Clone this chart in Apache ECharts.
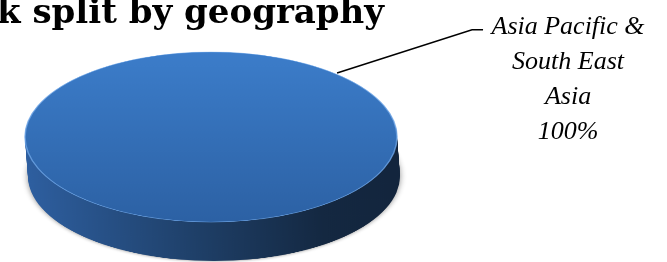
<!DOCTYPE html>
<html>
<head>
<meta charset="utf-8">
<script src="https://cdn.jsdelivr.net/npm/echarts@6/dist/echarts.min.js"></script>
<style>
html,body{margin:0;padding:0;background:#fff;}
#wrap{position:relative;width:667px;height:262px;overflow:hidden;}
/* pie body is drawn round and squashed to look tilted */
#pieBody{position:absolute;left:0;top:0;width:667px;height:573px;transform:scaleY(0.457);transform-origin:0 0;}
#labels{position:absolute;left:0;top:0;width:667px;height:262px;}
</style>
</head>
<body>
<div id="wrap"><div id="pieBody"></div><div id="labels"></div></div>
<script>
// data
var regions = ['Asia Pacific & South East Asia'];
var shares = [100];
var titleText = 'k split by geography';

var pieData = regions.map(function (n, i) {
    return { name: n, value: shares[i] };
});

// geometry of the tilted disc
var tilt = 0.457, cx = 211, cy = 137, rx = 186, depth = 39, layers = 26;

//立体饼图主体
var bodyChart = echarts.init(document.getElementById('pieBody'));
var bodySeries = [];
for (var k = layers; k >= 1; k--) {
    bodySeries.push({
        type: 'pie',
        silent: true,
        animation: false,
        center: [cx + 3 * k / layers, (cy + depth * k / layers) / tilt],
        radius: rx,
        label: { show: false },
        labelLine: { show: false },
        itemStyle: {
            color: new echarts.graphic.LinearGradient(0, 0, 1, 0, [
                { offset: 0, color: '#2e5fa0' },
                { offset: 0.45, color: '#1f4069' },
                { offset: 0.8, color: '#142841' },
                { offset: 1, color: '#13253d' }
            ]),
            shadowBlur: k === layers ? 6 : 0,
            shadowColor: 'rgba(0,0,0,0.45)'
        },
        data: pieData
    });
}
bodySeries.push({
    type: 'pie',
    silent: true,
    animation: false,
    center: [cx, cy / tilt],
    radius: rx,
    label: { show: false },
    labelLine: { show: false },
    itemStyle: {
        color: new echarts.graphic.LinearGradient(0, 0, 0, 1, [
            { offset: 0, color: '#3c7dca' },
            { offset: 1, color: '#2c61a4' }
        ]),
        borderColor: 'rgba(110,165,230,0.8)',
        borderWidth: 1.5
    },
    data: pieData
});
bodyChart.setOption({ series: bodySeries });

//标题和标签
function wrapName(name) {
    var words = name.split(' '), lines = [], cur = '';
    words.forEach(function (w) {
        var t = cur ? cur + ' ' + w : w;
        if (t.length > 14 && cur) { lines.push(cur); cur = w; } else { cur = t; }
    });
    lines.push(cur);
    return lines;
}

var labelChart = echarts.init(document.getElementById('labels'));
labelChart.setOption({
    title: {
        text: titleText,
        left: -3,
        top: -3,
        padding: 0,
        textStyle: {
            fontFamily: 'DejaVu Serif',
            fontWeight: 'bold',
            fontSize: 34,
            color: '#000'
        }
    },
    series: [{
        type: 'pie',
        silent: true,
        animation: false,
        avoidLabelOverlap: false,
        center: [318, 79],
        radius: 20,
        startAngle: 197.7,
        itemStyle: { color: 'rgba(0,0,0,0)' },
        label: {
            show: true,
            position: 'outside',
            padding: [99, 0, 0, 0],
            formatter: function (p) {
                var lines = wrapName(p.name);
                lines.push(Math.round(p.percent) + '%');
                return lines.map(function (l) { return '{a|' + l + '}'; }).join('\n');
            },
            rich: {
                a: {
                    width: 160,
                    align: 'center',
                    lineHeight: 35,
                    fontFamily: 'Liberation Serif',
                    fontStyle: 'italic',
                    fontSize: 26,
                    color: '#000'
                }
            }
        },
        labelLine: {
            show: true,
            length: 141.7,
            length2: 11,
            lineStyle: { color: '#000', width: 1.5 }
        },
        data: pieData
    }]
});
</script>
</body>
</html>
